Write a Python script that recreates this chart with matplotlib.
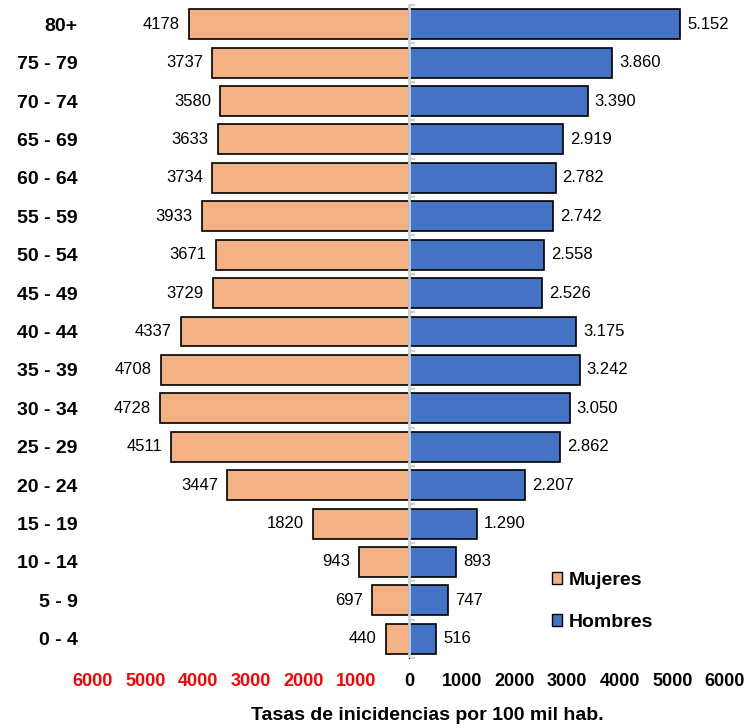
import numpy as np
import matplotlib.pyplot as plt
from matplotlib.patches import Patch

# Data
edades = ['0 - 4', '5 - 9', '10 - 14', '15 - 19', '20 - 24', '25 - 29', '30 - 34',
          '35 - 39', '40 - 44', '45 - 49', '50 - 54', '55 - 59', '60 - 64',
          '65 - 69', '70 - 74', '75 - 79', '80+']
mujeres = [440, 697, 943, 1820, 3447, 4511, 4728, 4708, 4337, 3729, 3671,
           3933, 3734, 3633, 3580, 3737, 4178]
hombres = [516, 747, 893, 1290, 2207, 2862, 3050, 3242, 3175, 2526, 2558,
           2742, 2782, 2919, 3390, 3860, 5152]
xticks = [-6000, -5000, -4000, -3000, -2000, -1000, 0, 1000, 2000, 3000, 4000, 5000, 6000]

col_muj = '#F4B183'
col_hom = '#4472C4'
gris = '#c8d0d8'

plt.rcParams['font.family'] = ['Liberation Sans', 'DejaVu Sans']

fig = plt.figure(figsize=(7.49, 7.28), dpi=100)
ax = fig.add_axes([93/749, 1-658/728, (725-93)/749, (658-5)/728])

y = np.arange(len(edades))
b1 = ax.barh(y, -np.array(mujeres), height=0.78, color=col_muj, edgecolor='black', linewidth=1.2)
b2 = ax.barh(y, hombres, height=0.78, color=col_hom, edgecolor='black', linewidth=1.2)

ax.bar_label(b1, labels=[str(v) for v in mujeres], padding=6.5, fontsize=12)
ax.bar_label(b2, labels=[f'{v:,}'.replace(',', '.') for v in hombres], padding=5, fontsize=12)

ax.set_xlim(-6000, 6000)
ax.set_ylim(-0.5, len(edades) - 0.5)

ax.set_yticks(y)
ax.set_yticklabels(edades, fontsize=14, fontweight='bold')
ax.tick_params(axis='y', length=0, pad=11)

ax.set_xticks(xticks)
ax.set_xticklabels([str(abs(t)) for t in xticks], fontsize=13, fontweight='bold')
for t, lab in zip(xticks, ax.get_xticklabels()):
    lab.set_color('red' if t < 0 else 'black')
ax.tick_params(axis='x', length=0, pad=11)

for s in ax.spines.values():
    s.set_visible(False)

# central axis line (light grey, above the bars) with boundary ticks
ax.axvline(0, color=gris, linewidth=2, zorder=5)
sec = ax.secondary_yaxis(0.5)
sec.spines['left'].set_visible(False)
sec.set_yticks(np.arange(-0.5, len(edades), 1))
sec.set_yticklabels([])
sec.tick_params(axis='y', length=4, width=1.5, color=gris, direction='out')

handles = [Patch(facecolor=col_muj, edgecolor='black', label='Mujeres'),
           Patch(facecolor=col_hom, edgecolor='black', label='Hombres')]
fig.legend(handles=handles, loc='upper left', bbox_to_anchor=(542/749, 1-562/728),
           frameon=False, prop={'weight': 'bold', 'size': 14},
           handlelength=0.55, handleheight=0.55, handletextpad=0.3,
           labelspacing=1.3, borderpad=0)

fig.text(427/749, 1-716/728, 'Tasas de inicidencias por 100 mil hab.', ha='center', va='center',
         fontsize=14, fontweight='bold')

plt.savefig('out.png', dpi=100)
